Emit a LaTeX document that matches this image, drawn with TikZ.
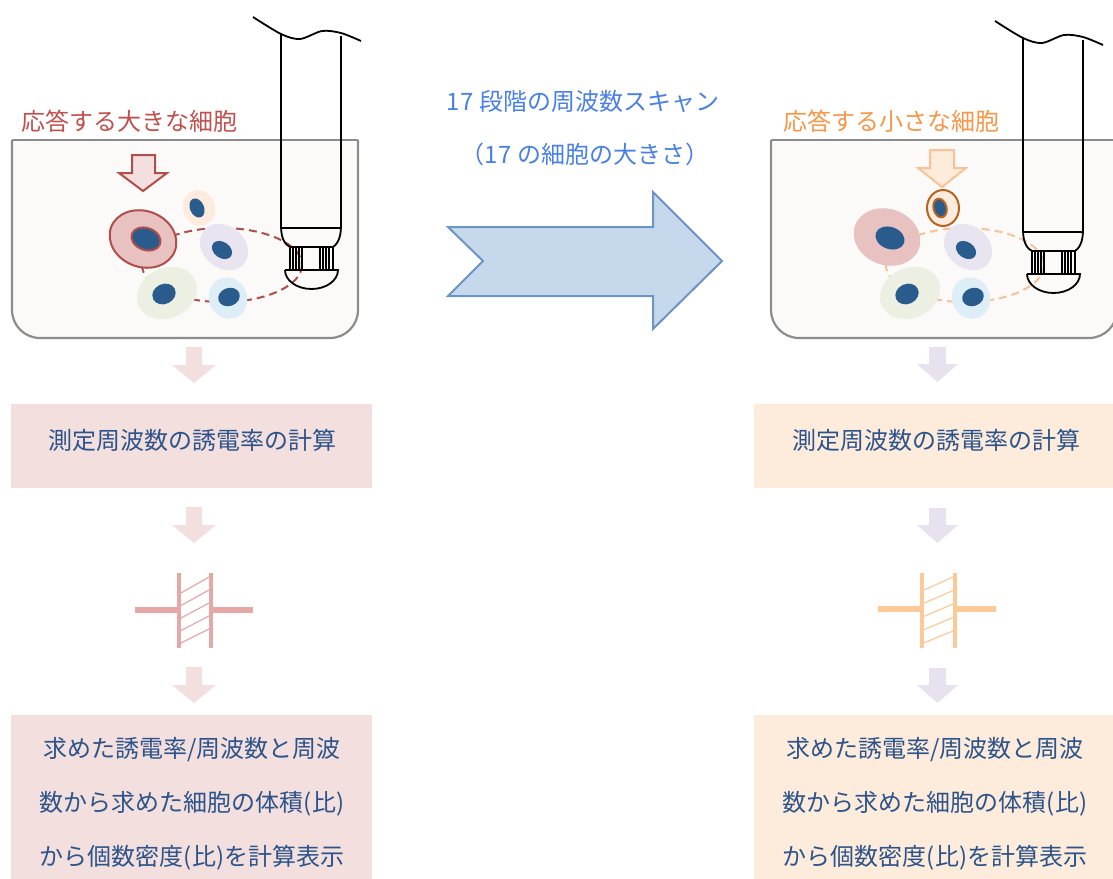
\documentclass[tikz,border=0pt]{standalone}
\usepackage{fontspec}
\setmainfont{Noto Sans CJK JP}
\usepackage{tikz}

\definecolor{azultexto}{RGB}{44,84,138}
\definecolor{azulscan}{RGB}{72,128,230}
\definecolor{vermelho}{RGB}{192,80,77}
\definecolor{vermelhoesc}{RGB}{176,78,75}
\definecolor{laranja}{RGB}{247,150,70}
\definecolor{laranjaclaro}{RGB}{250,194,148}
\definecolor{marrom}{RGB}{182,100,30}
\definecolor{cinza}{RGB}{140,140,140}
\definecolor{fundo}{RGB}{252,250,249}
\definecolor{nucleo}{RGB}{41,91,140}
\definecolor{celvermelha}{RGB}{232,194,193}
\definecolor{cellaranja}{RGB}{253,235,221}
\definecolor{celroxa}{RGB}{232,228,240}
\definecolor{celverde}{RGB}{235,240,227}
\definecolor{celazul}{RGB}{221,238,247}
\definecolor{rosa}{RGB}{242,223,222}
\definecolor{pessego}{RGB}{253,235,220}
\definecolor{lavanda}{RGB}{232,226,238}
\definecolor{capvermelho}{RGB}{229,168,166}
\definecolor{caplaranja}{RGB}{251,202,152}
\definecolor{setaazul}{RGB}{197,216,236}
\definecolor{setaborda}{RGB}{108,148,196}

\tikzset{
  bequer/.style={draw=cinza, fill=fundo, line width=1.1pt},
  sonda/.style={draw=black, line width=0.9pt},
  tracejado/.style={line width=1pt, dash pattern=on 4pt off 2.5pt},
  rotulo/.style={font=\fontsize{12}{14}\selectfont},
  texto/.style={text=azultexto, font=\fontsize{12}{27}\selectfont, align=center},
  placa/.style={line width=2.2pt},
  fio/.style={line width=3pt},
  hachura/.style={line width=0.6pt}
}

\begin{document}
\begin{tikzpicture}[x=0.5pt,y=-0.5pt]
  \useasboundingbox (0,0) rectangle (1113,878);
  \clip (0,0) rectangle (1113,878);

  % Béqueres
  \fill[fundo, rounded corners=14pt] (12,140) -- (12,338) -- (358,338) -- (358,140);
  \draw[bequer, rounded corners=14pt] (12,140) -- (12,338) -- (358,338) -- (358,140);
  \draw[bequer] (12,140) -- (358,140);
  \fill[fundo, rounded corners=14pt] (771,140) -- (771,338) -- (1117,338) -- (1117,140);
  \draw[bequer, rounded corners=14pt] (771,140) -- (771,338) -- (1117,338) -- (1117,140);
  \draw[bequer] (771,140) -- (1117,140);

  % Rótulos
  \node[rotulo, text=vermelho] (grande) at (129,121) {応答する大きな細胞};
  \node[rotulo, text=laranja] (pequena) at (891,121) {応答する小さな細胞};
  \node[rotulo, text=azulscan] (scan) at (583,101) {17 段階の周波数スキャン};
  \node[rotulo, text=azulscan] (tamanho) at (585,154) {（17 の細胞の大きさ）};

  % Elipses tracejadas
  \draw[tracejado, vermelhoesc] (222,265) ellipse [x radius=80, y radius=37];
  \draw[tracejado, laranjaclaro] (965,265) ellipse [x radius=79, y radius=37];

  % Células (lado esquerdo)
  \filldraw[fill=celvermelha, draw=vermelhoesc, line width=1pt, rotate around={-20:(143,239)}] (143,239) ellipse [x radius=34, y radius=28];
  \filldraw[fill=nucleo, draw=vermelhoesc, line width=1pt, rotate around={-20:(146,239)}] (146,239) ellipse [x radius=15, y radius=11];
  \fill[cellaranja, rotate around={20:(199,208)}] (199,208) ellipse [x radius=16, y radius=18];
  \fill[nucleo, rotate around={25:(197,208)}] (197,208) ellipse [x radius=7, y radius=10];
  \fill[celroxa, rotate around={-40:(224,247)}] (224,247) ellipse [x radius=26, y radius=21];
  \fill[nucleo, rotate around={-35:(222,250)}] (222,250) ellipse [x radius=11, y radius=8];
  \fill[celverde, rotate around={25:(167,293)}] (167,293) ellipse [x radius=31, y radius=25];
  \fill[nucleo, rotate around={25:(164,294)}] (164,294) ellipse [x radius=12, y radius=10];
  \fill[celazul, rotate around={20:(228,298)}] (228,298) ellipse [x radius=19, y radius=21];
  \fill[nucleo, rotate around={20:(229,297)}] (229,297) ellipse [x radius=11, y radius=9];

  % Células (lado direito)
  \fill[celvermelha, rotate around={-20:(887,237)}] (887,237) ellipse [x radius=34, y radius=28];
  \fill[nucleo, rotate around={-20:(890,238)}] (890,238) ellipse [x radius=15, y radius=11];
  \filldraw[fill=cellaranja, draw=marrom, line width=1pt] (943,208) ellipse [x radius=16, y radius=18];
  \filldraw[fill=nucleo, draw=marrom, line width=1pt, rotate around={15:(940,208)}] (940,208) ellipse [x radius=6.5, y radius=9.5];
  \fill[celroxa, rotate around={-40:(968,247)}] (968,247) ellipse [x radius=26, y radius=21];
  \fill[nucleo, rotate around={-35:(966,250)}] (966,250) ellipse [x radius=11, y radius=8];
  \fill[celverde, rotate around={25:(910,293)}] (910,293) ellipse [x radius=31, y radius=25];
  \fill[nucleo, rotate around={25:(907,294)}] (907,294) ellipse [x radius=12, y radius=10];
  \fill[celazul, rotate around={20:(971,298)}] (971,298) ellipse [x radius=19, y radius=21];
  \fill[nucleo, rotate around={20:(973,297)}] (973,297) ellipse [x radius=11, y radius=9];

  % Setas indicando a célula que responde
  \filldraw[fill=rosa, draw=vermelhoesc, line width=1pt] (132,155) -- (155,155) -- (155,173) -- (167,173) -- (143,191) -- (119,173) -- (132,173) -- cycle;
  \filldraw[fill=pessego, draw=laranjaclaro, line width=1pt] (930,150) -- (954,150) -- (954,168) -- (966,168) -- (942,187) -- (918,168) -- (930,168) -- cycle;

  % Sondas
  \foreach \dx/\dy in {0/0,742/4} {
    \begin{scope}[shift={(\dx,\dy)}]
      \draw[sonda] plot[smooth] coordinates {(253,17) (281,34) (300,39) (322,31) (341,33) (361,41)};
      \draw[sonda] (281,34) -- (281,226) .. controls (281,240) and (286,245) .. (290,247);
      \draw[sonda] (341,36) -- (341,226) .. controls (341,240) and (336,245) .. (333,247);
      \draw[sonda] (281,228) -- (341,228);
      \draw[sonda] (290,247) rectangle (333,270);
      \foreach \x in {293,296,299,302,320,323,326,329} \draw[sonda, line width=0.6pt] (\x,247) -- (\x,270);
      \draw[sonda] (285,270) -- (338,270) arc[start angle=0, end angle=180, x radius=26.5, y radius=19];
    \end{scope}
  }

  % Seta de varredura
  \filldraw[fill=setaazul, draw=setaborda, line width=1pt] (448,227) -- (653,227) -- (653,192) -- (722,261) -- (653,329) -- (653,296) -- (448,296) -- (483,261) -- cycle;

  % Setas pequenas das colunas
  \foreach \y in {347,507,667}
    \fill[rosa] (186,\y) -- (202,\y) -- (202,\y+18) -- (216,\y+18) -- (194,\y+36) -- (172,\y+18) -- (186,\y+18) -- cycle;
  \foreach \y in {347,508,668}
    \fill[lavanda] (929,\y) -- (946,\y) -- (946,\y+17) -- (958,\y+17) -- (937.5,\y+35) -- (917,\y+17) -- (929,\y+17) -- cycle;

  % Caixas de cálculo
  \fill[rosa] (11,404) rectangle (372,488);
  \fill[pessego] (754,404) rectangle (1115,488);
  \node[texto] (calcA) at (192,440) {測定周波数の誘電率の計算};
  \node[texto] (calcB) at (936,440) {測定周波数の誘電率の計算};

  % Capacitores
  \draw[fio, capvermelho] (135,610) -- (179,610) (211,610) -- (253,610);
  \draw[placa, capvermelho] (179,573) -- (179,648) (211,573) -- (211,648);
  \foreach \k in {0,...,4}
    \draw[hachura, capvermelho] (181,593+12.5*\k) -- (209,577+13*\k);
  \draw[fio, caplaranja] (878,609) -- (922,609) (955,609) -- (996,609);
  \draw[placa, caplaranja] (922,573) -- (922,648) (955,573) -- (955,648);
  \foreach \k in {0,...,4}
    \draw[hachura, caplaranja] (924,590+13.2*\k) -- (953,577+13.5*\k);

  % Caixas de resultado
  \fill[rosa] (11,715) rectangle (372,880);
  \fill[pessego] (754,715) rectangle (1115,880);
  \node[texto] (resA) at (192,804) {求めた誘電率/周波数と周波\\数から求めた細胞の体積(比)\\から個数密度(比)を計算表示};
  \node[texto] (resB) at (935,804) {求めた誘電率/周波数と周波\\数から求めた細胞の体積(比)\\から個数密度(比)を計算表示};
\end{tikzpicture}
\end{document}
